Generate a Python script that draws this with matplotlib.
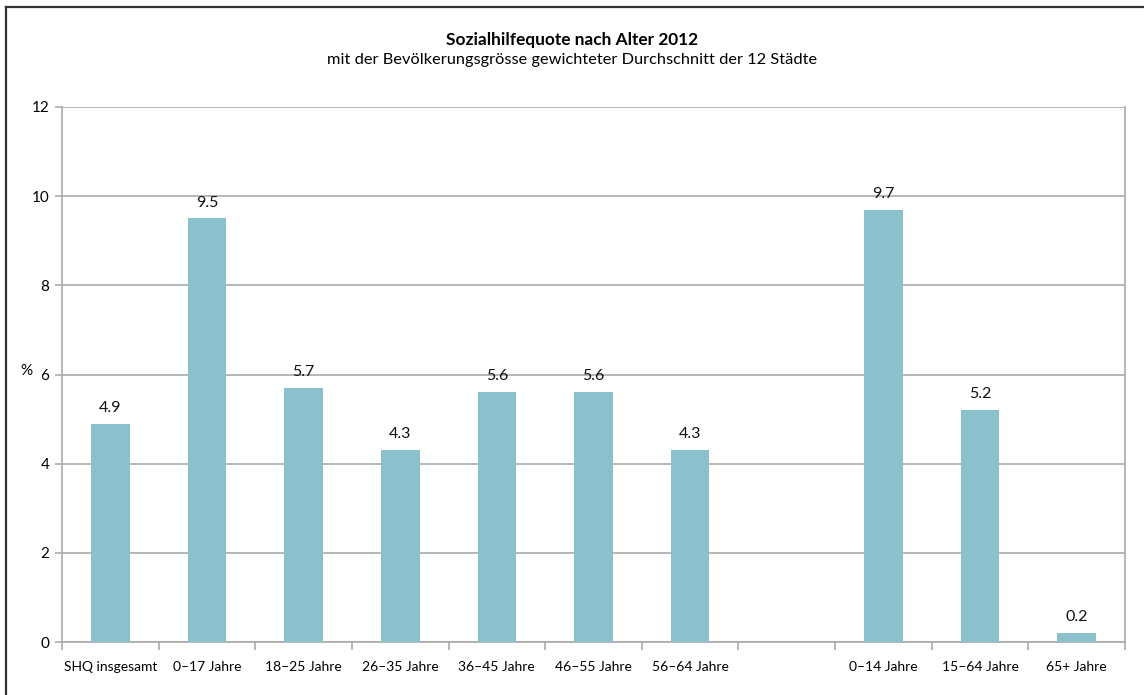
import numpy as np
import matplotlib.pyplot as plt
from matplotlib.lines import Line2D

categories = ['SHQ insgesamt', '0–17 Jahre', '18–25 Jahre', '26–35 Jahre', '36–45 Jahre',
              '46–55 Jahre', '56–64 Jahre', '', '0–14 Jahre', '15–64 Jahre', '65+ Jahre']
values = [4.9, 9.5, 5.7, 4.3, 5.6, 5.6, 4.3, None, 9.7, 5.2, 0.2]
yticks = [0, 2, 4, 6, 8, 10, 12]

plt.rcParams['font.family'] = ['Lato', 'DejaVu Sans']

bar_color = '#8AC1CC'
grid_color = '#AAAAAA'

fig = plt.figure(figsize=(11.44, 6.95), dpi=100)
ax = fig.add_axes([62 / 1144, 1 - 642 / 695, (1125 - 62) / 1144, (642 - 107) / 695])

x = np.arange(len(categories))
for xi, v in zip(x, values):
    if v is None:
        continue
    ax.bar(xi, v, width=0.4, color=bar_color, zorder=3)
    ax.text(xi, v + 0.2, f'{v:.1f}', ha='center', va='bottom', fontsize=11.5, color='#111111')

ax.set_xlim(-0.5, len(categories) - 0.5)
ax.set_ylim(0, 12)
ax.set_yticks(yticks)
ax.set_yticklabels([str(t) for t in yticks], fontsize=11)
ax.yaxis.grid(True, color=grid_color, linewidth=1.2, zorder=0)

ax.set_xticks(x)
ax.set_xticklabels(categories, fontsize=10)
ax.tick_params(axis='x', which='major', length=0, pad=14)
ax.set_xticks(np.arange(-0.5, len(categories) + 0.5, 1), minor=True)
ax.tick_params(axis='x', which='minor', length=6, color=grid_color, width=1.2, direction='out')
ax.tick_params(axis='y', length=5, color=grid_color, width=1.2, pad=4)

for side in ['left', 'bottom', 'right']:
    ax.spines[side].set_color(grid_color)
    ax.spines[side].set_linewidth(1.2)
ax.spines['top'].set_visible(False)

fig.text(26 / 1144, 1 - 371 / 695, '%', fontsize=11, ha='center', va='center')

fig.text(0.5, 1 - 40 / 695, 'Sozialhilfequote nach Alter 2012', fontsize=12.4,
         fontweight='bold', ha='center', va='center')
fig.text(0.5, 1 - 60 / 695, 'mit der Bevölkerungsgrösse gewichteter Durchschnitt der 12 Städte',
         fontsize=11.8, ha='center', va='center')

# frame lines at top and left of the figure
fig.add_artist(Line2D([6 / 1144, 6 / 1144], [0, 1 - 7 / 695], transform=fig.transFigure,
                      color='#333333', linewidth=1.6))
fig.add_artist(Line2D([6 / 1144, 1], [1 - 7 / 695, 1 - 7 / 695], transform=fig.transFigure,
                      color='#333333', linewidth=1.6))

fig.savefig('out.png', dpi=100)
